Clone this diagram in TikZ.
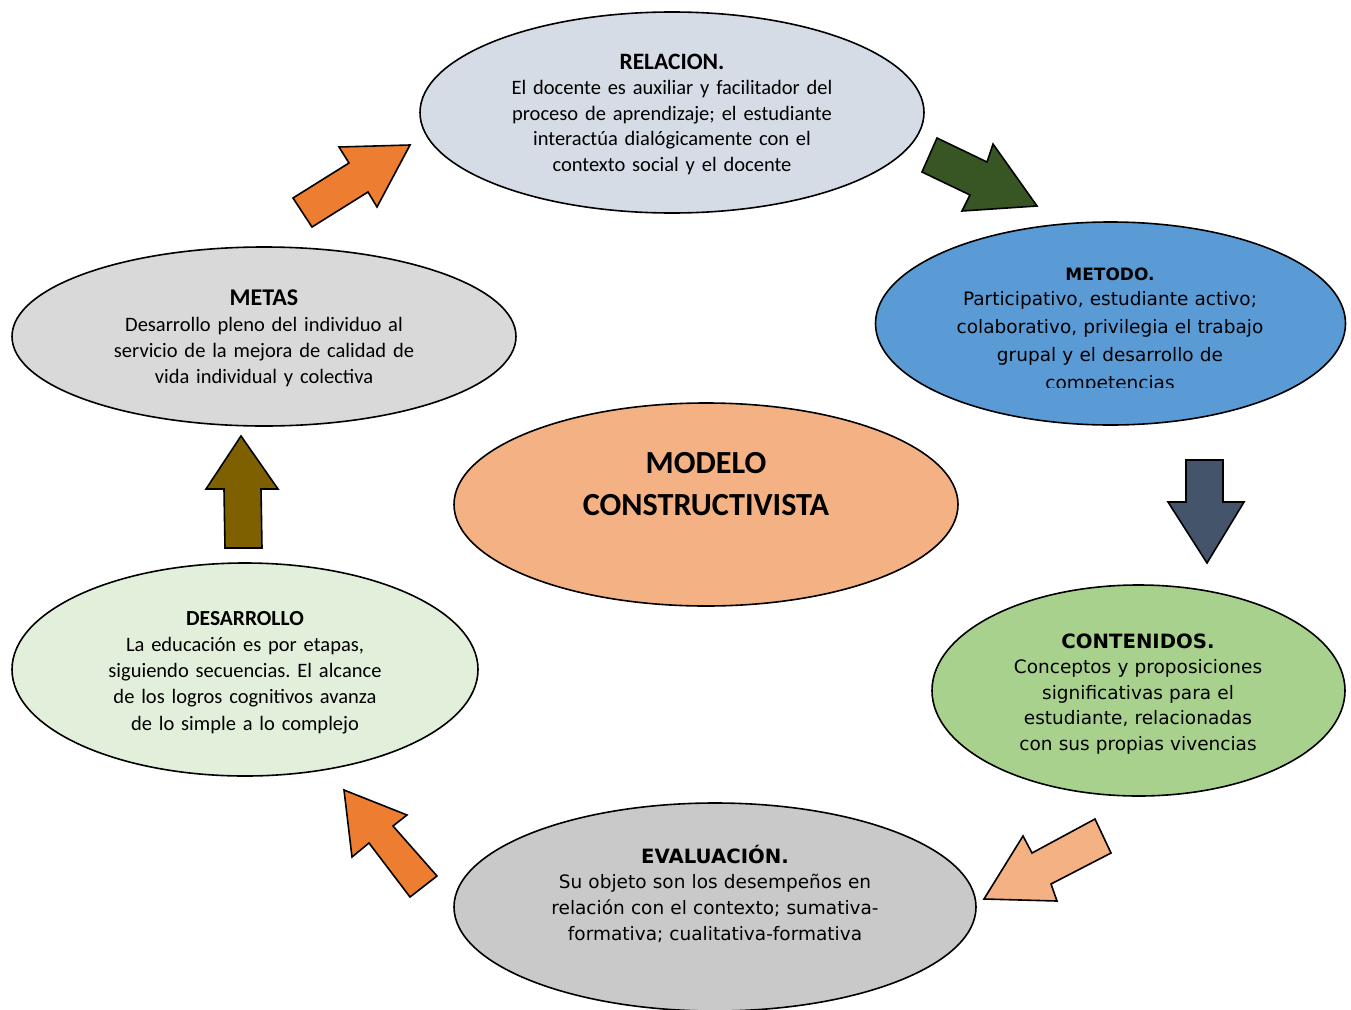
\documentclass[tikz,border=0pt]{standalone}
\usepackage{fontspec}
\setmainfont{Carlito}
\newfontfamily\tah{DejaVu Sans}
\usetikzlibrary{shapes.geometric}
\frenchspacing
\definecolor{relc}{HTML}{D6DCE5}
\definecolor{metc}{HTML}{5B9BD5}
\definecolor{metasc}{HTML}{D9D9D9}
\definecolor{modc}{HTML}{F4B183}
\definecolor{desc}{HTML}{E2EFDA}
\definecolor{conc}{HTML}{A9D18E}
\definecolor{evac}{HTML}{C9C9C9}
\definecolor{orng}{HTML}{ED7D31}
\definecolor{grn}{HTML}{375623}
\definecolor{slate}{HTML}{44546A}
\definecolor{peach}{HTML}{F4B183}
\definecolor{brwn}{HTML}{7F6000}
\begin{document}
\frenchspacing
\begin{tikzpicture}[x=1pt,y=-1pt,
  oval/.style={ellipse, draw=black, line width=1.6pt, inner sep=0pt},
  blk/.style={draw=black, line width=1.6pt, line join=miter},
  cal/.style={font={\frenchspacing\fontsize{20.5}{25.5}\selectfont}, text width=480pt, align=center, inner sep=0pt, anchor=base},
  tahs/.style={font={\frenchspacing\tah\fontsize{18.5}{27}\selectfont}, text width=480pt, align=center, inner sep=0pt, anchor=base}]
\useasboundingbox[fill=white] (0,0) rectangle (1351,1009);

% ovals
\node[oval, fill=relc, minimum width=504, minimum height=201] (rel) at (672,112.5) {};
\node[oval, fill=metc, minimum width=470, minimum height=203] (met) at (1110.5,323.5) {};
\node[oval, fill=metasc, minimum width=504, minimum height=179] (metas) at (264,336.5) {};
\node[oval, fill=modc, minimum width=504, minimum height=203] (mod) at (706,504.5) {};
\node[oval, fill=desc, minimum width=466, minimum height=213] (des) at (245,669.5) {};
\node[oval, fill=conc, minimum width=413, minimum height=211] (con) at (1138.5,690.5) {};
\node[oval, fill=evac, minimum width=522, minimum height=208] (eva) at (715,907) {};

% texts
\node[cal] (trel) at (672,69) {{\fontsize{23.5}{25.5}\selectfont\textbf{RELACION.}}\\El docente es auxiliar y facilitador del\\proceso de aprendizaje; el estudiante\\interactúa dialógicamente con el\\contexto social y el docente};
\node[cal, font={\frenchspacing\fontsize{20.5}{26}\selectfont}] (tmetas) at (264,305) {{\fontsize{24}{26}\selectfont\textbf{METAS}}\\Desarrollo pleno del individuo al\\servicio de la mejora de calidad de\\vida individual y colectiva};
\node[cal, font={\frenchspacing\fontsize{20.5}{26.3}\selectfont}] (tdes) at (245,625) {{\fontsize{21.5}{26}\selectfont\textbf{DESARROLLO}}\\La educación es por etapas,\\siguiendo secuencias. El alcance\\de los logros cognitivos avanza\\de lo simple a lo complejo};
\node[cal, font={\fontsize{32.2}{42}\selectfont\bfseries}] (tmod) at (706,473) {MODELO\\CONSTRUCTIVISTA};
\begin{scope}
\clip (870,240) rectangle (1350,387);
\node[tahs, font={\frenchspacing\tah\fontsize{18.5}{28}\selectfont}] (tmet) at (1110,280) {{\fontsize{17}{26}\selectfont\bfseries METODO.}\\[-3pt]Participativo, estudiante activo;\\colaborativo, privilegia el trabajo\\grupal y el desarrollo de\\competencias};
\end{scope}
\node[tahs, font={\frenchspacing\tah\fontsize{18.5}{25.5}\selectfont}] (tcon) at (1138,648) {{\fontsize{19.7}{25}\selectfont\bfseries CONTENIDOS.}\\Conceptos y proposiciones\\significativas para el\\estudiante, relacionadas\\con sus propias vivencias};
\node[tahs, font={\frenchspacing\tah\fontsize{18.5}{25.8}\selectfont}] (teva) at (715,863) {{\fontsize{19.7}{25}\selectfont\bfseries EVALUACIÓN.}\\Su objeto son los desempeños en\\relación con el contexto; sumativa-\\formativa; cualitativa-formativa};

% block arrows
\draw[blk, fill=orng] (410,145) -- (339,147) -- (349,163) -- (293,198) -- (312,227) -- (368,192) -- (377,207) -- cycle;
\draw[blk, fill=grn] (937,138) -- (987,162) -- (993,144) -- (1037,206) -- (962,211) -- (970,195) -- (922,172) -- cycle;
\draw[blk, fill=slate] (1186,460) -- (1223,460) -- (1223,502) -- (1244,502) -- (1207,563) -- (1168,502) -- (1186,502) -- cycle;
\draw[blk, fill=peach] (1095,819) -- (1111,853) -- (1051,884) -- (1057,901) -- (984,899) -- (1023,836) -- (1032,853) -- cycle;
\draw[blk, fill=orng] (344,790) -- (407,815) -- (393,826) -- (437,876) -- (410,897) -- (369,843) -- (352,857) -- cycle;
\draw[blk, fill=brwn] (241,436) -- (278,489) -- (261,489) -- (262,548) -- (225,548) -- (224,489) -- (206,489) -- cycle;
\end{tikzpicture}
\end{document}
